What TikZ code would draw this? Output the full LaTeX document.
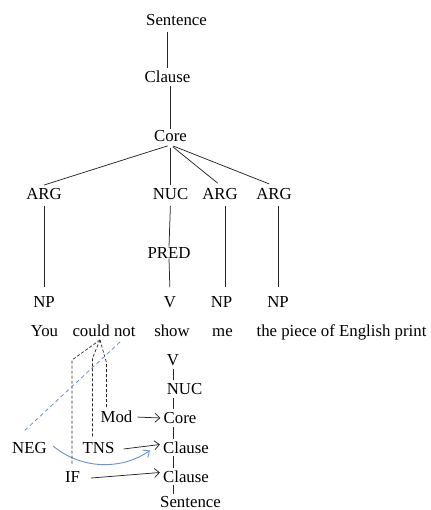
\documentclass[tikz,border=0pt]{standalone}
\usepackage{fontspec}
\setmainfont{Liberation Serif}
\usetikzlibrary{arrows.meta}
\definecolor{lblue}{RGB}{104,144,214}
\begin{document}
\begin{tikzpicture}[x=1pt,y=-1pt,
  lab/.style={inner sep=3pt, text height=11.5pt, text depth=0pt, font=\fontsize{16.8}{20}\selectfont, text=black},
  tree/.style={draw=black!85, line width=0.75pt},
  arr/.style={-{Straight Barb[length=5pt,width=9pt]}},
  dline/.style={draw=black!85, line width=0.7pt, dash pattern=on 3pt off 2pt},
  bdline/.style={draw=lblue, line width=0.8pt, dash pattern=on 4pt off 3pt},
  bcurve/.style={draw=lblue, line width=0.9pt}]
\useasboundingbox (0,0) rectangle (430,510);
% upper tree
\node[lab] (s0) at (176.5,19.5) {Sentence};
\node[lab] (cl0) at (167.5,77) {Clause};
\node[lab] (co0) at (170.5,136) {Core};
\node[lab] (a1) at (44,194) {ARG};
\node[lab] (nuc0) at (170.5,194) {NUC};
\node[lab] (a2) at (220,194) {ARG};
\node[lab] (a3) at (274,194) {ARG};
\node[lab, inner sep=0pt] (pred) at (169,252.5) {PRED};
\node[lab] (np1) at (44,302) {NP};
\node[lab] (v0) at (170,302) {V};
\node[lab] (np2) at (221.5,302) {NP};
\node[lab] (np3) at (278,302) {NP};
% words
\node[lab] (w1) at (44.5,331) {You};
\node[lab] (w2) at (104,331) {could not};
\node[lab] (w3) at (172,331) {show};
\node[lab] (w4) at (222.5,331) {me};
\node[lab] (w5) at (341.5,331) {the piece of English print};
% lower projection
\node[lab] (bv) at (173,360) {V};
\node[lab] (bnuc) at (184.5,389) {NUC};
\node[lab] (bco) at (180,418) {Core};
\node[lab] (bcl1) at (186,447.5) {Clause};
\node[lab] (bcl2) at (186,476.5) {Clause};
\node[lab, inner sep=1pt] (bs) at (190.5,502) {Sentence};
\node[lab] (mod) at (116.5,417) {Mod};
\node[lab] (tns) at (98.5,448) {TNS};
\node[lab] (neg) at (29.5,448) {NEG};
\node[lab] (iff) at (72.5,477) {IF};
% tree lines
\draw[tree, shorten >=4pt] (cl0.north) -- (cl0.north |- s0.south);
\draw[tree, shorten <=-2pt] (co0.north) -- (co0.north |- cl0.south);
\draw[tree, shorten <=3pt] (co0.south) -- (a1.north);
\draw[tree, shorten <=3pt] (co0.south) -- (nuc0.north);
\draw[tree, shorten <=3pt, shorten >=3pt] (co0.south) -- (a2.north);
\draw[tree, shorten <=3pt, shorten >=3pt] (co0.south) -- ([xshift=-2pt]a3.north);
\draw[tree, shorten <=3pt, shorten >=6pt] (a1.south) -- (np1.north);
\draw[tree, shorten <=3pt] (nuc0.south) -- (pred.north);
\draw[tree, shorten >=6pt] (pred.south) -- (v0.north);
\draw[tree, shorten <=3pt, shorten >=6pt] ([xshift=5pt]a2.south) -- ([xshift=5pt]a2.south |- np2.north);
\draw[tree, shorten <=3pt, shorten >=6pt] ([xshift=4pt]a3.south) -- ([xshift=4pt]a3.south |- np3.north);
% lower stack bars
\draw[tree] (bv.south) -- (bv.south |- bnuc.north);
\draw[tree] (bv.south |- bnuc.south) -- (bv.south |- bco.north);
\draw[tree] (bv.south |- bco.south) -- (bv.south |- bcl1.north);
\draw[tree] (bv.south |- bcl1.south) -- (bv.south |- bcl2.north);
\draw[tree, shorten >=1pt] (bv.south |- bcl2.south) -- (bv.south |- bs.north);
% operator arrows
\draw[tree, arr, shorten <=2pt] (mod.east) -- (bco.west);
\draw[tree, arr] ([xshift=6pt,yshift=-1pt]tns.east) -- ([yshift=3pt]bcl1.west);
\draw[tree, arr] ([xshift=8pt,yshift=-1pt]iff.east) -- ([yshift=4pt]bcl2.west);
\draw[bcurve, arr] ([xshift=3pt,yshift=2pt]neg.east) .. controls (85,472) and (125,468) .. ([xshift=-10pt,yshift=-3pt]bcl1.west);
% dashed links to "could not"
\coordinate (apx) at ([xshift=-4pt]w2.south);
\coordinate (k1) at (72,360);
\coordinate (k2) at (92.5,358);
\coordinate (k3) at (106.5,363);
\draw[dline, shorten >=3pt] (apx) -- (k1) -- (k1 |- iff.north);
\draw[dline, shorten >=2pt] (apx) -- (k2) -- (k2 |- tns.north);
\draw[dline, shorten >=1pt] (apx) -- (k3) -- (k3 |- mod.north);
\coordinate (bd) at (120,342);
\draw[bdline] (bd) -- ([xshift=-6.5pt,yshift=7pt]neg.north);
\end{tikzpicture}
\end{document}
